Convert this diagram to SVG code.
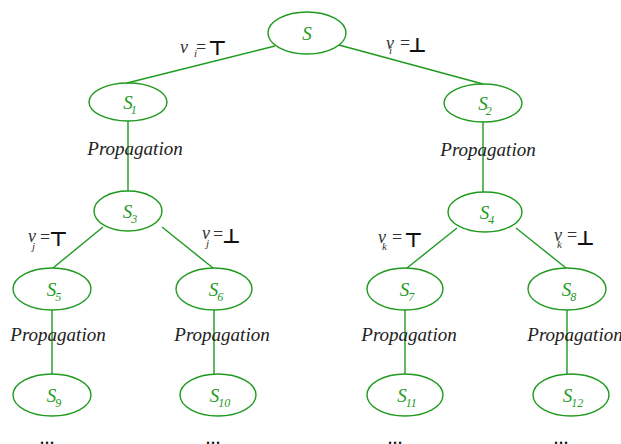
<svg xmlns="http://www.w3.org/2000/svg" width="621" height="444" viewBox="0 0 621 444">
<style>
.n{fill:none;stroke:#1f9a1f;stroke-width:1.4}
.c line{stroke:#1f9a1f;stroke-width:1.4}
.lab{font-family:"Liberation Serif",serif;font-style:italic;font-size:19px;fill:#1f9a1f;text-anchor:middle}
.sub{font-size:12px}
.prop{font-family:"Liberation Serif",serif;font-style:italic;font-size:19px;fill:#222;text-anchor:middle}
.v{font-family:"Liberation Serif",serif;font-style:italic;font-size:18px;fill:#333}
.vs{font-family:"Liberation Serif",serif;font-style:italic;font-size:11px;fill:#333}
.eq{font-family:"Liberation Serif",serif;font-size:18px;fill:#333}
.tb{font-family:"DejaVu Sans",sans-serif;font-size:20px;font-weight:bold;fill:#111}
.dots{font-family:"Liberation Serif",serif;font-size:20px;fill:#111;text-anchor:middle}
</style>
<g id="connectors" class="c">
<line x1="275" y1="46" x2="127" y2="83"/>
<line x1="339" y1="45" x2="483" y2="84"/>
<line x1="128" y1="121" x2="128" y2="191"/>
<line x1="483" y1="122" x2="483" y2="192"/>
<line x1="103" y1="227" x2="53" y2="268"/>
<line x1="162" y1="227" x2="213" y2="268"/>
<line x1="457" y1="228" x2="407" y2="268"/>
<line x1="516" y1="228" x2="566" y2="268"/>
<line x1="52" y1="310" x2="52" y2="374"/>
<line x1="214" y1="310" x2="214" y2="374"/>
<line x1="405" y1="310" x2="405" y2="374"/>
<line x1="567" y1="310" x2="567" y2="374"/>
</g>
<g id="S"><ellipse class="n" cx="307" cy="33" rx="39" ry="21"/><text class="lab" x="307" y="40">S</text></g>
<g id="S1"><ellipse class="n" cx="128" cy="102" rx="39" ry="19"/><text class="lab" x="130" y="109">S<tspan class="sub" dx="-2" dy="5">1</tspan></text></g>
<g id="S2"><ellipse class="n" cx="483" cy="103" rx="39" ry="19"/><text class="lab" x="485" y="110">S<tspan class="sub" dx="-2" dy="5">2</tspan></text></g>
<g id="S3"><ellipse class="n" cx="128" cy="211" rx="34" ry="20"/><text class="lab" x="130" y="218">S<tspan class="sub" dx="-1" dy="5">3</tspan></text></g>
<g id="S4"><ellipse class="n" cx="485" cy="212" rx="37" ry="20"/><text class="lab" x="487" y="219">S<tspan class="sub" dx="-1" dy="5">4</tspan></text></g>
<g id="S5"><ellipse class="n" cx="52" cy="289" rx="39" ry="21"/><text class="lab" x="54" y="296">S<tspan class="sub" dx="-1" dy="5">5</tspan></text></g>
<g id="S6"><ellipse class="n" cx="214" cy="289" rx="38" ry="21"/><text class="lab" x="216" y="296">S<tspan class="sub" dx="-1" dy="5">6</tspan></text></g>
<g id="S7"><ellipse class="n" cx="405" cy="289" rx="38" ry="21"/><text class="lab" x="407" y="296">S<tspan class="sub" dx="-1" dy="5">7</tspan></text></g>
<g id="S8"><ellipse class="n" cx="567" cy="289" rx="39" ry="21"/><text class="lab" x="569" y="296">S<tspan class="sub" dx="-1" dy="5">8</tspan></text></g>
<g id="S9"><ellipse class="n" cx="52" cy="395" rx="39" ry="21"/><text class="lab" x="54" y="402">S<tspan class="sub" dx="-1" dy="5">9</tspan></text></g>
<g id="S10"><ellipse class="n" cx="218" cy="395" rx="38" ry="21"/><text class="lab" x="220" y="402">S<tspan class="sub" dx="-1" dy="5">10</tspan></text></g>
<g id="S11"><ellipse class="n" cx="405" cy="395" rx="38" ry="21"/><text class="lab" x="407" y="402">S<tspan class="sub" dx="-1" dy="5">11</tspan></text></g>
<g id="S12"><ellipse class="n" cx="571" cy="395" rx="38" ry="21"/><text class="lab" x="573" y="402">S<tspan class="sub" dx="-1" dy="5">12</tspan></text></g>
<g id="labels">
<text class="prop" x="135" y="155">Propagation</text>
<text class="prop" x="488" y="156">Propagation</text>
<text class="prop" x="58" y="341">Propagation</text>
<text class="prop" x="222" y="341">Propagation</text>
<text class="prop" x="409" y="341">Propagation</text>
<text class="prop" x="575" y="341">Propagation</text>
<text class="v" x="180" y="53">v</text><text class="vs" x="194" y="57">i</text><text class="eq" x="196" y="53">=</text><text class="tb" x="208" y="55">⊤</text>
<text class="v" x="386" y="49">v</text><text class="vs" x="389" y="54">i</text><text class="eq" x="400" y="49">=</text><text class="tb" x="408" y="52">⊥</text>
<text class="v" x="28" y="242">v</text><text class="vs" x="32" y="250">j</text><text class="eq" x="40" y="243">=</text><text class="tb" x="49" y="246">⊤</text>
<text class="v" x="202" y="239">v</text><text class="vs" x="206" y="247">j</text><text class="eq" x="213" y="240">=</text><text class="tb" x="222" y="243">⊥</text>
<text class="v" x="378" y="243">v</text><text class="vs" x="382" y="250">k</text><text class="eq" x="392" y="243">=</text><text class="tb" x="404" y="247">⊤</text>
<text class="v" x="554" y="241">v</text><text class="vs" x="557" y="248">k</text><text class="eq" x="567" y="241">=</text><text class="tb" x="576" y="245">⊥</text>
<text class="dots" x="47" y="444">...</text>
<text class="dots" x="213" y="444">...</text>
<text class="dots" x="395" y="444">...</text>
<text class="dots" x="561" y="444">...</text>
</g>
</svg>
